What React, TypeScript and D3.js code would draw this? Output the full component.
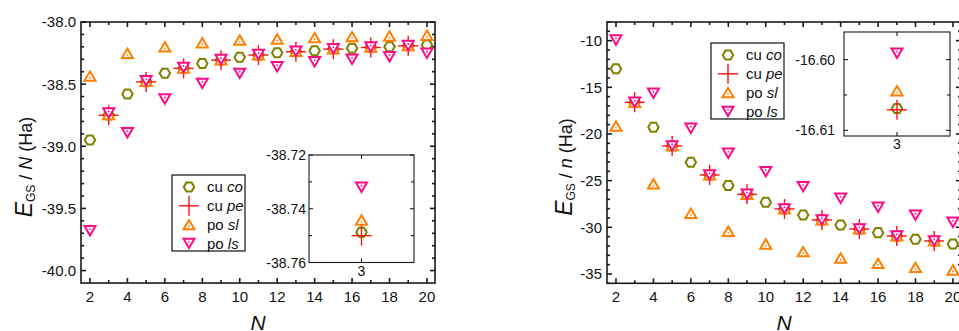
import React from 'react';
import * as d3 from 'd3';

const FONT = '"Liberation Sans", Arial, Helvetica, sans-serif';

// system sizes N
const nAll = [2, 3, 4, 5, 6, 7, 8, 9, 10, 11, 12, 13, 14, 15, 16, 17, 18, 19, 20];
const nOdd = [3, 5, 7, 9, 11, 13, 15, 17, 19];
const xMajor = [2, 4, 6, 8, 10, 12, 14, 16, 18, 20];

// left panel: E_GS / N
const leftCo = [-38.95, -38.7487, -38.58, -38.48, -38.413, -38.372, -38.333, -38.305, -38.284, -38.265, -38.247, -38.238, -38.231, -38.217, -38.212, -38.204, -38.199, -38.191, -38.185];
const leftPe = [-38.75, -38.482, -38.373, -38.307, -38.266, -38.239, -38.218, -38.205, -38.192];
const leftSl = [-38.435, -38.7442, -38.252, -38.478, -38.199, -38.37, -38.167, -38.304, -38.145, -38.263, -38.137, -38.236, -38.126, -38.215, -38.118, -38.202, -38.113, -38.19, -38.107];
const leftLs = [-39.68, -38.732, -38.891, -38.472, -38.62, -38.366, -38.494, -38.302, -38.413, -38.262, -38.36, -38.235, -38.32, -38.214, -38.3, -38.201, -38.28, -38.189, -38.252];
const leftYMajor = [-40.0, -39.5, -39.0, -38.5, -38.0];
const leftInsetMajor = [-38.76, -38.74, -38.72];

// right panel: E_GS / n
const rightCo = [-13.0, -16.6069, -19.28, -21.3, -23.03, -24.4, -25.53, -26.47, -27.32, -28.04, -28.68, -29.22, -29.75, -30.19, -30.57, -30.94, -31.28, -31.47, -31.79];
const rightPe = [-16.6071, -21.28, -24.39, -26.46, -28.03, -29.21, -30.18, -30.93, -31.46];
const rightSl = [-19.14, -16.6044, -25.35, -21.27, -28.5, -24.38, -30.42, -26.45, -31.79, -28.02, -32.61, -29.2, -33.29, -30.17, -33.86, -30.92, -34.29, -31.45, -34.57];
const rightLs = [-9.93, -16.5991, -15.64, -21.27, -19.39, -24.38, -22.07, -26.45, -24.04, -28.02, -25.64, -29.2, -26.89, -30.17, -27.85, -30.92, -28.71, -31.45, -29.46];
const rightYMajor = [-35, -30, -25, -20, -15, -10];
const rightInsetMajor = [-16.61, -16.6];

const OLIVE = '#808000';
const RED = '#ff1010';
const ORANGE = '#ff8000';
const PINK = '#ff0a84';

type MType = 'hex' | 'cross' | 'up' | 'down';

const Marker = ({ type, x, y, color }: { type: MType; x: number; y: number; color: string }) => {
  if (type === 'hex') {
    const r = 5.2;
    const pts = [0, 1, 2, 3, 4, 5].map(i => {
      const a = (Math.PI / 3) * i;
      return `${x + r * Math.cos(a)},${y + r * Math.sin(a)}`;
    }).join(' ');
    return <polygon points={pts} fill="white" stroke={color} strokeWidth={2} />;
  }
  if (type === 'cross') {
    return (
      <g stroke={color} strokeWidth={1.4}>
        <line x1={x - 10} x2={x + 10} y1={y} y2={y} />
        <line x1={x} x2={x} y1={y - 10} y2={y + 10} />
      </g>
    );
  }
  const w = 5.5, h = 4.7;
  const s = type === 'up' ? 1 : -1;
  const pts = `${x},${y - s * h} ${x + w},${y + s * h} ${x - w},${y + s * h}`;
  const cy = y + s * h / 3;
  return (
    <g>
      <polygon points={pts} fill="white" stroke={color} strokeWidth={2} strokeLinejoin="miter" />
      <circle cx={x} cy={cy} r={0.9} fill={color} />
    </g>
  );
};

const Frame = ({ xs, ys, xTicks, xMinor, yTicks, yMinor, major, minor, sw }: any) => {
  const [x0, x1] = xs.range();
  const [y1, y0] = ys.range();
  const lines: JSX.Element[] = [];
  const push = (k: string, a: number, b: number, c: number, d: number) =>
    lines.push(<line key={k} x1={a} y1={b} x2={c} y2={d} />);
  xMinor.forEach((t: number, i: number) => {
    const len = xTicks.includes(t) ? major : minor;
    const x = xs(t);
    push('xb' + i, x, y1, x, y1 - len);
    push('xt' + i, x, y0, x, y0 + len);
  });
  yMinor.forEach((t: number, i: number) => {
    const len = yTicks.some((m: number) => Math.abs(m - t) < 1e-6) ? major : minor;
    const y = ys(t);
    push('yl' + i, x0, y, x0 + len, y);
    push('yr' + i, x1, y, x1 - len, y);
  });
  return (
    <g stroke="#1a1a1a" strokeWidth={sw} fill="none">
      {lines}
      <rect x={x0} y={y0} width={x1 - x0} height={y1 - y0} />
    </g>
  );
};

const series = (co: number[], pe: number[], sl: number[], ls: number[]) => [
  { type: 'hex' as MType, color: OLIVE, xs: nAll, ys: co },
  { type: 'cross' as MType, color: RED, xs: nOdd, ys: pe },
  { type: 'up' as MType, color: ORANGE, xs: nAll, ys: sl },
  { type: 'down' as MType, color: PINK, xs: nAll, ys: ls },
];

const legendItems: { type: MType; color: string; a: string; b: string }[] = [
  { type: 'hex', color: OLIVE, a: 'cu ', b: 'co' },
  { type: 'cross', color: RED, a: 'cu ', b: 'pe' },
  { type: 'up', color: ORANGE, a: 'po ', b: 'sl' },
  { type: 'down', color: PINK, a: 'po ', b: 'ls' },
];

const Panel = (p: any) => {
  const xs = d3.scaleLinear().domain([1.52, 20.43]).range([p.x0, p.x1]);
  const ys = d3.scaleLinear().domain(p.yDomain).range([p.y1, p.y0]);
  const xMinor = nAll;
  const sers = series(p.co, p.pe, p.sl, p.ls);

  const ins = p.inset;
  const ixs = d3.scaleLinear().domain([2.5, 3.5]).range([ins.x0, ins.x1]);
  const iys = d3.scaleLinear().domain(ins.domain).range([ins.y1, ins.y0]);

  return (
    <g fontFamily={FONT}>
      <Frame xs={xs} ys={ys} xTicks={xMajor} xMinor={xMinor} yTicks={p.yMajor} yMinor={p.yMinor} major={5} minor={3} sw={1.6} />
      {xMajor.map(t => (
        <text key={'xl' + t} x={xs(t)} y={p.y1 + 19} fontSize={15} textAnchor="middle" fill="#111">{t}</text>
      ))}
      {p.yMajor.map((t: number) => (
        <text key={'yl' + t} x={p.x0 - 5} y={ys(t)} dy="0.36em" fontSize={15} textAnchor="end" fill="#111">{p.fmt(t)}</text>
      ))}
      {sers.map((s, si) => (
        <g key={'s' + si}>
          {s.xs.map((n, i) => <Marker key={i} type={s.type} x={xs(n)} y={ys(s.ys[i])} color={s.color} />)}
        </g>
      ))}
      {/* legend */}
      <rect x={p.legend.x} y={p.legend.y} width={p.legend.w} height={p.legend.h} fill="white" stroke="#111" strokeWidth={1.2} />
      {legendItems.map((it, i) => {
        const cy = p.legend.y + 12 + i * 18.8;
        return (
          <g key={'lg' + i}>
            <Marker type={it.type} x={p.legend.x + 17} y={cy} color={it.color} />
            <text x={p.legend.x + 35} y={cy} dy="0.36em" fontSize={15} fill="#111">
              {it.a}<tspan fontStyle="italic">{it.b}</tspan>
            </text>
          </g>
        );
      })}
      {/* inset */}
      <rect x={ins.x0} y={ins.y0} width={ins.x1 - ins.x0} height={ins.y1 - ins.y0} fill="white" />
      <Frame xs={ixs} ys={iys} xTicks={[3]} xMinor={[3]} yTicks={ins.major} yMinor={ins.minor} major={4} minor={3} sw={1.1} />
      {ins.major.map((t: number) => (
        <text key={'il' + t} x={ins.x0 - ins.gap} y={iys(t)} dy="0.36em" fontSize={14} textAnchor="end" fill="#111">{t.toFixed(2)}</text>
      ))}
      <text x={ixs(3)} y={ins.y1 + 13} fontSize={14} textAnchor="middle" fill="#111">3</text>
      {sers.map((s, si) => (
        <Marker key={'im' + si} type={s.type} x={ixs(3)} y={iys(s.ys[s.xs.indexOf(3)])} color={s.color} />
      ))}
      {/* axis titles */}
      <text x={(p.x0 + p.x1) / 2} y={330} fontSize={21} fontStyle="italic" textAnchor="middle" fill="#111">N</text>
      <text transform={`translate(${p.labelX},167) rotate(-90)`} textAnchor="middle" fontSize={18} fill="#111">
        <tspan fontStyle="italic" fontSize={23}>E</tspan>
        <tspan fontSize={12} dy={3}>GS</tspan>
        <tspan dy={-3}> / </tspan>
        <tspan fontStyle="italic">{p.yVar}</tspan>
        <tspan> (Ha)</tspan>
      </text>
    </g>
  );
};

export default function App() {
  return (
    <svg width={959} height={331} style={{ position: 'absolute', left: 0, top: 0, background: 'white' }}>
      <rect width={959} height={331} fill="white" />
      <Panel
        x0={81} x1={435} y0={22} y1={283}
        yDomain={[-40.1, -38.0]}
        yMajor={leftYMajor}
        yMinor={d3.range(-40.0, -37.95, 0.1)}
        fmt={(t: number) => t.toFixed(1)}
        co={leftCo} pe={leftPe} sl={leftSl} ls={leftLs}
        legend={{ x: 172, y: 175, w: 73, h: 76 }}
        inset={{ x0: 309, x1: 414, y0: 155, y1: 262.5, domain: [-38.76, -38.72], major: leftInsetMajor, minor: [-38.76, -38.75, -38.74, -38.73, -38.72], gap: 3 }}
        labelX={32}
        yVar="N"
      />
      <Panel
        x0={607} x1={961} y0={22} y1={283.3}
        yDomain={[-36, -8]}
        yMajor={rightYMajor}
        yMinor={d3.range(-36, -7.5, 1)}
        fmt={(t: number) => String(t)}
        co={rightCo} pe={rightPe} sl={rightSl} ls={rightLs}
        legend={{ x: 711, y: 43, w: 73, h: 76 }}
        inset={{ x0: 844, x1: 950, y0: 32, y1: 136, domain: [-16.6108, -16.5961], major: rightInsetMajor, minor: [-16.61, -16.605, -16.6], gap: 9 }}
        labelX={572}
        yVar="n"
      />
    </svg>
  );
}
